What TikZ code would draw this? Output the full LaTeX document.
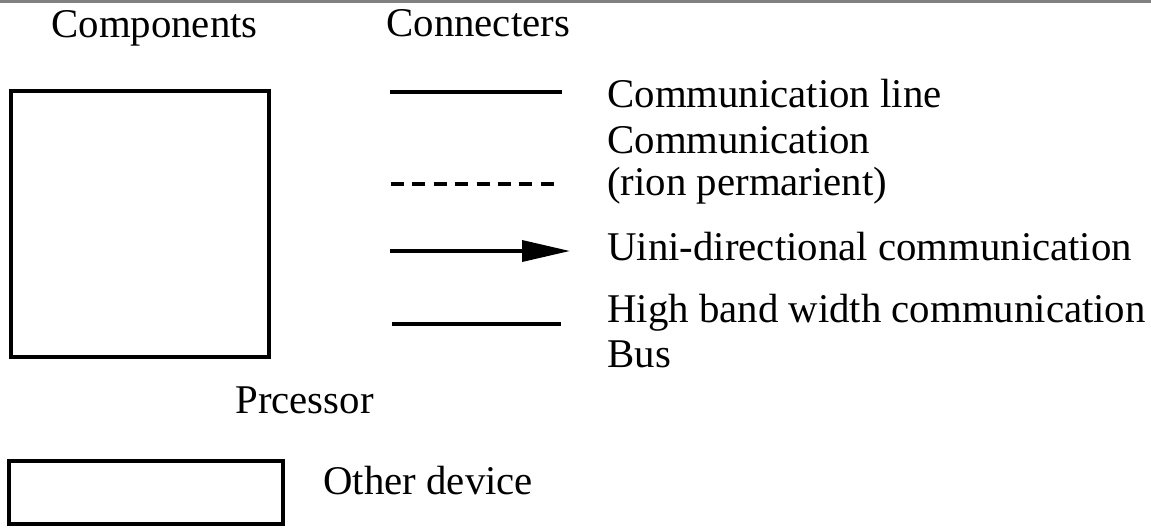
\documentclass[tikz,border=0pt]{standalone}
\usepackage{fontspec}
\setmainfont{Liberation Serif}
\usetikzlibrary{arrows.meta}
\begin{document}
\begin{tikzpicture}[x=0.5pt,y=-0.5pt,
  lbl/.style={inner sep=0pt, anchor=base west, font=\fontsize{20.4}{23}\selectfont},
  comp/.style={draw, line width=1.8pt, inner sep=0pt, anchor=north west},
  conn/.style={line width=1.8pt},
  dashconn/.style={line width=1.8pt, dash pattern=on 6.5pt off 4.2pt},
  arrowconn/.style={line width=1.8pt, -{Triangle[length=24pt,width=10.5pt]}}]
\useasboundingbox (0,0) rectangle (1151,530);
\fill[gray] (0,0) rectangle (1151,3);
% headings
\node[lbl] (hcomp) at (51,38) {Components};
\node[lbl] (hconn) at (386,36) {Connecters};
% components
\node[comp, minimum width=129pt, minimum height=133pt] (proc) at (9,89) {};
\node[lbl] (proclbl) at (235,413) {Prcessor};
\node[comp, minimum width=137pt, minimum height=31.5pt] (dev) at (7,459) {};
\node[lbl] (devlbl) at (323,494) {Other device};
% connectors
\coordinate (l1a) at (390,92);  \coordinate (l1b) at (562,92);
\coordinate (l2a) at (391,184); \coordinate (l2b) at (557,184);
\coordinate (l3a) at (390,251); \coordinate (l3b) at (570,251);
\coordinate (l4a) at (392,324); \coordinate (l4b) at (561,324);
\draw[conn] (l1a) -- (l1b);
\draw[dashconn] (l2a) -- (l2b);
\draw[arrowconn] (l3a) -- (l3b);
\draw[conn] (l4a) -- (l4b);
% connector labels
\node[lbl] (t1) at (607,107) {Communication line};
\node[lbl] (t2) at (607,153) {Communication};
\node[lbl] (t3) at (607,195) {(rion permarient)};
\node[lbl] (t4) at (607,260) {Uini-directional communication};
\node[lbl] (t5) at (607,322) {High band width communication};
\node[lbl] (t6) at (607,367) {Bus};
\end{tikzpicture}
\end{document}
